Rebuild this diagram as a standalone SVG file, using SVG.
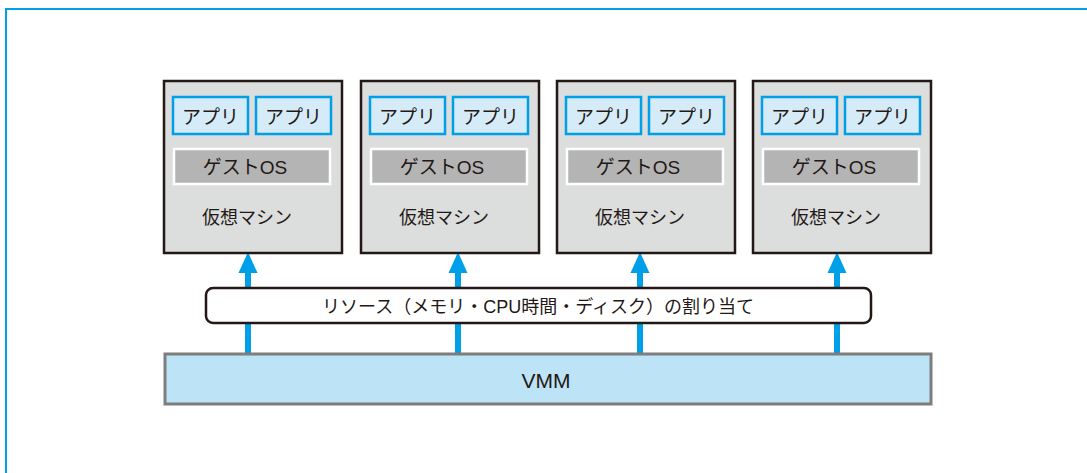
<svg xmlns="http://www.w3.org/2000/svg" width="1087" height="473" viewBox="0 0 1087 473">
<style>
  text { font-family: "Liberation Sans", "Noto Sans CJK JP", sans-serif; fill: #231815; text-anchor: middle; dominant-baseline: central; }
  .vm { fill: #dcdddd; stroke: #231815; stroke-width: 2.5; }
  .app { fill: #d5ecf8; stroke: #00a0e9; stroke-width: 2.5; }
  .os { fill: #b4b4b4; stroke: #ffffff; stroke-width: 2.5; }
  .t19 { font-size: 19px; }
  .t18 { font-size: 18px; }
  .t21 { font-size: 21px; }
  .shaft { stroke: #00a0e9; stroke-width: 6; fill: none; }
  .head { fill: #00a0e9; }
</style>
<rect x="0" y="0" width="1087" height="473" fill="#ffffff"/>
<rect x="6" y="9" width="1200" height="600" fill="none" stroke="#00a0e9" stroke-width="2"/>

<g id="connectors">
  <path class="shaft" d="M248 353 V268"/>
  <polygon class="head" points="248,252 238.5,273 257.5,273"/>
  <path class="shaft" d="M458 353 V268"/>
  <polygon class="head" points="458,252 448.5,273 467.5,273"/>
  <path class="shaft" d="M640 353 V268"/>
  <polygon class="head" points="640,252 630.5,273 649.5,273"/>
  <path class="shaft" d="M837 353 V268"/>
  <polygon class="head" points="837,252 827.5,273 846.5,273"/>
</g>

<g id="vm1">
  <rect class="vm" x="164" y="81" width="178" height="172"/>
  <rect class="app" x="173" y="97" width="75" height="37"/>
  <text class="t19" x="210.5" y="117">アプリ</text>
  <rect class="app" x="256" y="97" width="75" height="37"/>
  <text class="t19" x="293.5" y="117">アプリ</text>
  <rect class="os" x="174" y="149" width="156" height="35"/>
  <text class="t19" x="245" y="167">ゲストOS</text>
  <text class="t18" x="247" y="218">仮想マシン</text>
</g>
<g id="vm2">
  <rect class="vm" x="361" y="81" width="178" height="172"/>
  <rect class="app" x="370" y="97" width="75" height="37"/>
  <text class="t19" x="407.5" y="117">アプリ</text>
  <rect class="app" x="453" y="97" width="75" height="37"/>
  <text class="t19" x="490.5" y="117">アプリ</text>
  <rect class="os" x="371" y="149" width="156" height="35"/>
  <text class="t19" x="442" y="167">ゲストOS</text>
  <text class="t18" x="444" y="218">仮想マシン</text>
</g>
<g id="vm3">
  <rect class="vm" x="557" y="81" width="178" height="172"/>
  <rect class="app" x="566" y="97" width="75" height="37"/>
  <text class="t19" x="603.5" y="117">アプリ</text>
  <rect class="app" x="649" y="97" width="75" height="37"/>
  <text class="t19" x="686.5" y="117">アプリ</text>
  <rect class="os" x="567" y="149" width="156" height="35"/>
  <text class="t19" x="638" y="167">ゲストOS</text>
  <text class="t18" x="640" y="218">仮想マシン</text>
</g>
<g id="vm4">
  <rect class="vm" x="753" y="81" width="178" height="172"/>
  <rect class="app" x="762" y="97" width="75" height="37"/>
  <text class="t19" x="799.5" y="117">アプリ</text>
  <rect class="app" x="845" y="97" width="75" height="37"/>
  <text class="t19" x="882.5" y="117">アプリ</text>
  <rect class="os" x="763" y="149" width="156" height="35"/>
  <text class="t19" x="834" y="167">ゲストOS</text>
  <text class="t18" x="836" y="218">仮想マシン</text>
</g>

<g id="resource">
  <rect x="206" y="288" width="665" height="35" rx="7" ry="7" fill="#ffffff" stroke="#231815" stroke-width="2.5"/>
  <text class="t18" x="538" y="307">リソース（メモリ・CPU時間・ディスク）の割り当て</text>
</g>

<g id="vmm">
  <rect x="165" y="354" width="766" height="50" fill="#bde3f7" stroke="#7d7d7d" stroke-width="3"/>
  <text class="t21" x="546" y="380">VMM</text>
</g>
</svg>
